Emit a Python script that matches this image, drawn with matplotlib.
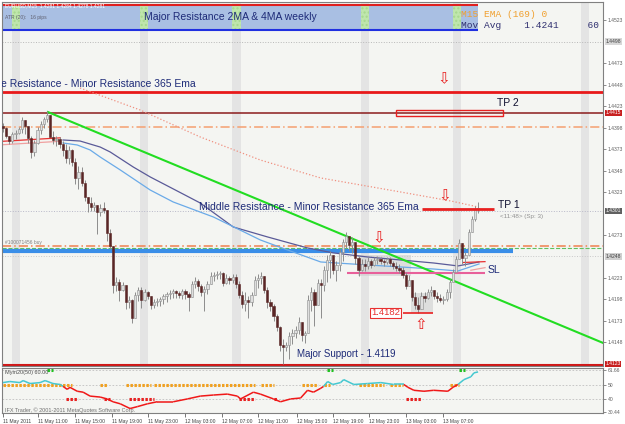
import numpy as np
import matplotlib
matplotlib.use('Agg')
import matplotlib.pyplot as plt
from matplotlib.patches import Rectangle
from matplotlib.collections import LineCollection
from matplotlib.transforms import blended_transform_factory

plt.rcParams['font.family'] = ['Liberation Sans', 'DejaVu Sans']

BASE = 1.4100  # candle / MA values below are pips above this level

first_open = 300
bar_high = [303, 299, 288, 293, 295, 299, 310, 304, 297, 288,
            284, 299, 306, 310, 317, 309, 294, 288, 287, 282,
            279, 277, 273, 263, 253, 252, 237, 217, 217, 211,
            207, 209, 211, 199, 180, 159, 124, 122, 118, 114,
            102, 99, 107, 113, 113, 110, 108, 101, 99, 100,
            101, 104, 107, 109, 110, 109, 108, 110, 110, 107,
            120, 124, 122, 116, 114, 120, 130, 130, 131, 131,
            130, 128, 125, 128, 128, 120, 108, 107, 102, 107,
            125, 128, 130, 122, 113, 99, 93, 81, 67, 52,
            49, 60, 64, 67, 78, 67, 61, 103, 113, 110,
            122, 122, 137, 150, 154, 149, 143, 157, 168, 177,
            172, 171, 165, 149, 145, 145, 147, 145, 147, 149,
            147, 145, 147, 147, 143, 142, 139, 136, 130, 127,
            118, 107, 101, 107, 107, 110, 114, 108, 107, 104,
            102, 110, 122, 133, 149, 168, 160, 153, 180, 195,
            207, 211]
bar_low = [293, 286, 279, 280, 285, 290, 292, 290, 280, 263,
           265, 279, 290, 297, 304, 287, 279, 277, 274, 265,
           257, 256, 253, 232, 227, 230, 213, 200, 201, 201,
           174, 195, 198, 166, 157, 106, 108, 96, 108, 87,
           88, 71, 93, 96, 88, 96, 99, 87, 88, 90,
           90, 93, 95, 99, 100, 100, 100, 99, 99, 85,
           108, 111, 108, 102, 85, 104, 116, 120, 122, 122,
           114, 116, 116, 117, 111, 100, 88, 85, 77, 90,
           104, 111, 116, 106, 88, 85, 73, 61, 38, 23,
           38, 29, 46, 53, 58, 50, 47, 63, 85, 67,
           96, 77, 108, 118, 123, 128, 120, 131, 143, 158,
           154, 152, 139, 125, 131, 131, 133, 135, 137, 139,
           139, 137, 139, 137, 133, 131, 129, 123, 110, 117,
           96, 87, 82, 88, 95, 99, 102, 99, 95, 95,
           93, 96, 100, 120, 135, 146, 139, 137, 151, 178,
           189, 199]
bar_close = [297, 288, 282, 290, 292, 296, 307, 300, 286, 270,
             280, 295, 302, 308, 313, 287, 284, 285, 279, 272,
             263, 272, 258, 239, 246, 234, 217, 210, 206, 208,
             200, 204, 202, 175, 160, 115, 118, 109, 115, 95,
             97, 77, 103, 109, 97, 107, 102, 92, 95, 96,
             99, 102, 104, 106, 108, 106, 103, 108, 104, 101,
             116, 120, 114, 107, 110, 116, 125, 127, 128, 129,
             117, 123, 121, 124, 116, 103, 93, 97, 95, 103,
             121, 123, 125, 109, 95, 90, 79, 66, 45, 43,
             45, 56, 59, 63, 72, 57, 59, 97, 107, 92,
             117, 115, 132, 144, 150, 132, 138, 153, 165, 172,
             161, 165, 146, 132, 139, 137, 143, 138, 144, 145,
             143, 142, 145, 140, 137, 135, 132, 127, 114, 121,
             101, 92, 87, 102, 100, 107, 109, 102, 100, 97,
             99, 107, 118, 130, 145, 164, 146, 150, 177, 192,
             203, 204]

ma_slow_bar = [19.1, 24.5, 30.9, 34.1, 41.4, 46.8, 54.8, 62.7, 73.2, 84.1, 96.8, 105.1, 115.9, 126.4, 136.9, 144.6, 151.3]
ma_slow_pips = [283.5, 282.3, 275.3, 269.5, 252.1, 240.5, 225.3, 210.2, 182.3, 170.7, 157.9, 152.1, 147.4, 143.9, 140.4, 137.0, 141.6]
ma_fast_bar = [19.1, 23.6, 27.7, 30.9, 37.3, 46.8, 54.1, 66.9, 81.8, 90.4, 101, 115.9, 126.4, 136.9, 144.6, 151.3]
ma_fast_pips = [280.0, 277.7, 271.9, 263.7, 248.6, 225.3, 211.4, 193.9, 167.2, 155.6, 141.6, 138.1, 135.8, 133.4, 131.1, 139.3]
ema365_bar = [24.5, 43.6, 62.7, 81.8, 101, 126.4, 142.4, 151]
ema365_pips = [344.0, 318.4, 287.0, 260.2, 239.3, 223.0, 212.5, 205.6]
short_red_bar = [0, 18.2, np.nan, 146.2, 153.2]
short_red_pips = [282, 286, np.nan, 141, 142]
short_pink_bar = [0, 18.2, np.nan, 148.7, 153.2]
short_pink_pips = [278, 282, np.nan, 132, 135]
trend_bar = [14.3, 191]
trend_pips = [316, 47]

osc_bar = [0, 2.2, 5.4, 6.4, 8.6, 11.8, 13.4, 15.9, 18.2, 19.1, 20.4, 21.3, 23.6, 25.5, 27.7,
           30.9, 33.1, 35, 37.3, 40.4, 42.7, 45.9, 49, 54.1, 58.6, 62.7, 66.9, 71.3, 74.5, 75.5,
           79.6, 81.8, 86, 88.2, 91.4, 94.6, 96.8, 98.7, 101, 101.9, 103.2, 104.8, 107.3, 108.3,
           111.5, 115.9, 120.1, 124.2, 127.4, 128.7, 130.6, 133.8, 136.9, 141.4, 143, 144.6,
           146.5, 148.7, 149.7, 151]
osc_val = [52.1, 52.9, 52.1, 53.6, 51.4, 52.1, 53.6, 51.4, 50.7, 49.3, 47.1, 48.6, 45.7, 45, 42.1,
           41.4, 40, 37.9, 36.4, 32.9, 34.3, 36.4, 37.9, 37.9, 40, 42.1, 42.9, 43.6, 42.1, 40,
           45, 43.6, 40, 37.9, 40, 40.7, 46.4, 45, 47.9, 49.3, 52.9, 50.7, 52.1, 54.3,
           50.7, 51.4, 52.1, 50.7, 50.7, 48.6, 46.4, 45.7, 46.4, 45.7, 48.6, 50.7,
           54.3, 56.4, 59.3, 60]
orange_dots = [(0, 22), (31, 33), (39, 47), (48, 80), (82, 86), (95, 100), (102, 104), (113, 121), (123, 127), (142, 145)]
red_dots = [(20, 24), (32, 34), (40, 48), (75, 80), (86, 87), (128, 133)]
green_dots = [(14, 16), (103, 105), (145, 147)]

session_bands = [2.9, 43.6, 72.9, 113.7, 143.0, 183.8]
time_ticks = [0, 11.1, 22.9, 34.7, 46.2, 58, 69.7, 81.2, 93.6, 104.8, 116.2, 128, 139.8]
time_labels = ['11 May 2011', '11 May 11:00', '11 May 15:00', '11 May 19:00', '11 May 23:00',
               '12 May 03:00', '12 May 07:00', '12 May 11:00', '12 May 15:00', '12 May 19:00',
               '12 May 23:00', '13 May 03:00', '13 May 07:00']
price_ticks = [1.4523, 1.4473, 1.4448, 1.4423, 1.4398, 1.4373, 1.4348, 1.4323,
               1.4273, 1.4223, 1.4198, 1.4173, 1.4148]
price_boxes = [(1.4498, '#d8d8d8', '#404040'), (1.4415, '#c82020', 'white'),
               (1.4301, '#606060', 'white'), (1.4248, '#d0d0d0', '#404040'),
               (1.4123, '#c82020', 'white')]
osc_ticks = [61.66, 50, 40, 30.44]


def px(p):
    return BASE + np.asarray(p, dtype=float) / 10000.0


fig = plt.figure(figsize=(6.25, 4.24), dpi=100, facecolor='white')
ax = fig.add_axes([2 / 625, 58 / 424, 601 / 625, 364 / 424], facecolor='#f4f5f2')
ax2 = fig.add_axes([2 / 625, 11 / 424, 601 / 625, 45 / 424], facecolor='#f4f5f2')
XL = (-0.3, 190.7)

# ---- main price panel ----
ax.set_xlim(*XL)
ax.set_ylim(1.41206, 1.4544)
for b in session_bands:
    ax.axvspan(b, b + 2.6, color='#e4e4e4', zorder=0, lw=0)

# weekly resistance band
ax.add_patch(Rectangle((XL[0], 1.45114), 151.3, 0.00291, fc='#a9bfe3', ec='none', zorder=1))
for b in session_bands:
    if b < 150:
        ax.add_patch(Rectangle((b, 1.45114), 2.6, 0.00291, fc='#bfe6ac', ec='#a6d98e',
                               hatch='....', lw=0, zorder=1.2))
ax.hlines(1.45405, XL[0], 151, color='#e02020', lw=1.5, zorder=2)
ax.hlines(1.45114, XL[0], 151, color='#2030e0', lw=1.5, zorder=2)

ax.axhline(1.4497, color='#b8b8b8', lw=0.7, ls=':', zorder=1)
ax.axhline(1.4439, color='#e8191a', lw=2, zorder=2)
ax.axhline(1.4415, color='#8b1c1c', lw=1.1, zorder=2)
ax.axhline(1.4399, color='#f5a070', lw=1.1, ls=(0, (6, 2, 1, 2)), zorder=2)
ax.axhline(1.4301, color='#b8b8c8', lw=0.7, ls=':', zorder=1)
ax.axhline(1.4260, color='#f08050', lw=1.1, ls=(0, (6, 2, 1, 2)), zorder=2)
ax.axhline(1.4258, color='#60c060', lw=0.8, ls='--', zorder=2)
ax.axhline(1.4249, color='#c8c8c8', lw=0.7, ls=':', zorder=1)
ax.hlines(1.42544, XL[0], 162, color='#3a8ee8', lw=3, zorder=2)
ax.axhline(1.4122, color='#d01818', lw=1.5, zorder=2)

# shaded zones
ax.add_patch(Rectangle((112.7, 1.42253), 16.9, 0.00244, fc='#cfcfcf', alpha=0.6, ec='none', zorder=1))
ax.add_patch(Rectangle((129.6, 1.41823), 7.0, 0.00232, fc='#cfcfcf', alpha=0.6, ec='none', zorder=1))

# moving averages
ax.plot(ema365_bar, px(ema365_pips), color='#f09080', lw=0.9, ls=':', zorder=2)
ax.plot(ma_slow_bar, px(ma_slow_pips), color='#5a5a98', lw=0.9, zorder=2)
ax.plot(ma_fast_bar, px(ma_fast_pips), color='#6aaae8', lw=0.9, zorder=2)
ax.plot(short_red_bar, px(short_red_pips), color='#e83030', lw=0.9, zorder=2)
ax.plot(short_pink_bar, px(short_pink_pips), color='#f0a0a0', lw=0.9, zorder=2)
ax.plot(trend_bar, px(trend_pips), color='#22dd22', lw=1.5, zorder=3)

# candles
hi = np.array(bar_high, float)
lo = np.array(bar_low, float)
cl = np.array(bar_close, float)
op = np.r_[first_open, cl[:-1]]
x = np.arange(len(cl))
top = np.maximum(op, cl)
bot = np.minimum(op, cl)
ax.vlines(x, px(np.minimum(lo, bot)), px(np.maximum(hi, top)), color='#8c8c8c', lw=0.7, zorder=4)
h = np.maximum(top - bot, 0.6) / 10000.0
bull = cl >= op
ax.bar(x[bull], h[bull], bottom=px(bot[bull]), width=0.7, color='#dedede',
       edgecolor='#8c8c8c', lw=0.4, zorder=5)
ax.bar(x[~bull], h[~bull], bottom=px(bot[~bull]), width=0.7, color='#5a2626',
       edgecolor='#5a2626', lw=0.4, zorder=5)

# trade levels
ax.add_patch(Rectangle((124.8, 1.4411), 34.1, 0.0007, fc='none', ec='#e82020', lw=1, zorder=3))
ax.hlines(1.4303, 133.1, 156, color='#e82020', lw=2, zorder=6)
ax.hlines(1.42286, 109.2, 153.2, color='#e8609a', lw=1.5, zorder=3)
ax.hlines(1.41823, 127, 136.6, color='#e82020', lw=1.2, zorder=6)

navy = '#1e2b78'
ax.text(72.3, 1.45265, 'Major Resistance 2MA & 4MA weekly', fontsize=7.5, color=navy,
        ha='center', va='center', zorder=7)
ax.text(61.1, 1.44486, 'Middle Resistance - Minor Resistance 365 Ema', fontsize=7.5, color=navy,
        ha='right', va='center', clip_on=True, zorder=7)
ax.text(132.2, 1.43056, 'Middle Resistance - Minor Resistance 365 Ema', fontsize=7.5, color=navy,
        ha='right', va='center', zorder=7)
ax.text(157, 1.44265, 'TP 2', fontsize=7.5, color='#101030', va='center', zorder=7)
ax.text(157.3, 1.4308, 'TP 1', fontsize=7.5, color='#101030', va='center', zorder=7)
ax.text(154.1, 1.4232, 'SL', fontsize=7.5, color=navy, va='center', zorder=7)
ax.text(93.3, 1.41346, 'Major Support - 1.4119', fontsize=7, color=navy, va='center', zorder=7)
ax.text(121.7, 1.41823, '1.4182', fontsize=6.8, color='#e83030', ha='center', va='center', zorder=7,
        bbox=dict(boxstyle='square,pad=0.1', fc='white', ec='#e83030', lw=0.8))
ax.text(158, 1.4295, '<11:48> (Sp: 3)', fontsize=4.5, color='#909090', va='center', zorder=7)
ax.text(0.6, 1.42637, '#100071456 buy', fontsize=3.5, color='#808080', va='center', zorder=7)
ax.text(0.6, 1.45265, 'ATR (20):   16 pips', fontsize=3.6, color='#606070', va='center', zorder=7)
ax.text(0.6, 1.4542, 'EURUSD,M15  1.4281 1.4284 1.4278 1.4281', fontsize=3.6, color='white',
        va='top', zorder=7)
ax.text(145.5, 1.4530, 'M15 EMA (169) 0', fontsize=6.8, family='Liberation Mono',
        color='#f0a030', va='center', zorder=7)
ax.text(145.5, 1.45172, 'Mov Avg    1.4241     60', fontsize=6.8, family='Liberation Mono',
        color='#303070', va='center', zorder=7)

arrow_kw = dict(fontsize=11, color='#e82020', ha='center', va='center', family='DejaVu Sans', zorder=7)
ax.text(140.1, 1.44544, '\u21e9', **arrow_kw)
ax.text(140.4, 1.43184, '\u21e9', **arrow_kw)
ax.text(119.4, 1.42695, '\u21e9', **arrow_kw)
ax.text(132.8, 1.41683, '\u21e7', **arrow_kw)

ax.yaxis.tick_right()
ax.set_yticks(price_ticks)
ax.set_yticklabels(['%.4f' % p for p in price_ticks])
ax.tick_params(axis='y', labelsize=3.6, colors='#606060', length=2, width=0.5, pad=1.5)
ax.set_xticks([])
trans = blended_transform_factory(ax.transAxes, ax.transData)
for p, fc, tc in price_boxes:
    ax.text(1.004, p, '%.4f' % p, transform=trans, fontsize=3.6, color=tc, va='center',
            clip_on=False, bbox=dict(boxstyle='square,pad=0.15', fc=fc, ec='none'))
for s in ax.spines.values():
    s.set_color('#808080')
    s.set_linewidth(0.8)

# ---- oscillator panel ----
ax2.set_xlim(*XL)
ax2.set_ylim(29.6, 62.9)
for lv in [61.66, 50, 40]:
    ax2.axhline(lv, color='#c0c0c0', lw=0.6, ls=(0, (2, 2)), zorder=1)

pts = np.column_stack([osc_bar, osc_val])
segs = np.stack([pts[:-1], pts[1:]], axis=1)
mid = (pts[:-1, 1] + pts[1:, 1]) / 2
cols = ['#45c8d0' if m >= 50 else '#f01818' for m in mid]
ax2.add_collection(LineCollection(segs, colors=cols, lw=1.1, zorder=3))

for rng, lv, c in [(orange_dots, 50, '#f0a020'), (red_dots, 40, '#e82020'), (green_dots, 61.66, '#20c020')]:
    for a, b in rng:
        ax2.plot([a, b], [lv, lv], color=c, lw=2.2, ls=(0, (0.8, 0.5)), solid_capstyle='butt', zorder=2)

ax2.text(0.6, 59.5, 'Mym20(50) 60.00', fontsize=4, color='#505050', va='center')
ax2.text(0.6, 31.8, 'IFX Trader, \u00a9 2001-2011 MetaQuotes Software Corp.', fontsize=4,
         color='#707070', va='center')

ax2.yaxis.tick_right()
ax2.set_yticks(osc_ticks)
ax2.set_yticklabels(['61.66', '50', '40', '30.44'])
ax2.tick_params(axis='y', labelsize=3.6, colors='#606060', length=2, width=0.5, pad=1.5)
ax2.set_xticks(time_ticks)
ax2.set_xticklabels(time_labels, ha='left')
ax2.tick_params(axis='x', labelsize=3.6, colors='#404040', length=3, width=0.5, pad=1)
for s in ax2.spines.values():
    s.set_color('#808080')
    s.set_linewidth(0.8)

fig.savefig('out.png', dpi=100, facecolor='white')
